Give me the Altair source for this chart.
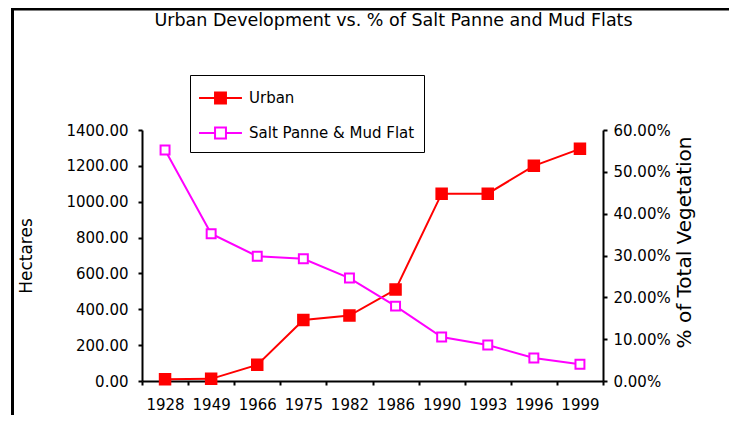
import altair as alt
import pandas as pd

years = ["1928", "1949", "1966", "1975", "1982", "1986", "1990", "1993", "1996", "1999"]
urban_ha = [10, 12, 90, 340, 365, 510, 1045, 1045, 1200, 1295]
salt_pct = [0.552, 0.352, 0.298, 0.292, 0.246, 0.179, 0.105, 0.086, 0.055, 0.040]
series_names = ["Urban", "Salt Panne & Mud Flat"]
series_colors = ["#ff0000", "#ff00ff"]
series_fills = ["#ff0000", "#ffffff"]
left_ticks = [0, 200, 400, 600, 800, 1000, 1200, 1400]
right_ticks = [0, 0.1, 0.2, 0.3, 0.4, 0.5, 0.6]

FONT = "DejaVu Sans"

urban_df = pd.DataFrame({"year": years, "hectares": urban_ha, "series": series_names[0]})
salt_df = pd.DataFrame({"year": years, "pct": salt_pct, "series": series_names[1]})
frame_df = pd.DataFrame({"k": [0]})

legend_path = "M-1.65,0L-0.42,0M0.42,0L1.65,0M-0.42,-0.42L0.42,-0.42L0.42,0.42L-0.42,0.42Z"


def make_legend():
    return alt.Legend(title=None, orient="none", legendX=48, legendY=-55,
                      symbolType=legend_path, symbolSize=676,
                      symbolStrokeWidth=2, symbolOffset=7.5,
                      labelOffset=14.5, rowPadding=11, padding=9, labelLimit=400,
                      strokeColor="black", fillColor="white",
                      labelFont=FONT, labelFontSize=15, labelColor="black")


x_enc = alt.X("year:O", sort=years,
              scale=alt.Scale(type="band", domain=years, paddingInner=0, paddingOuter=0),
              axis=alt.Axis(title=None, labelAngle=0, tickBand="extent", labelPadding=12))

color_enc = alt.Color("series:N",
                      scale=alt.Scale(domain=series_names, range=series_colors),
                      legend=make_legend())
fill_enc = alt.Fill("series:N",
                    scale=alt.Scale(domain=series_names, range=series_fills),
                    legend=make_legend())

y_left = alt.Y("hectares:Q",
               scale=alt.Scale(domain=[0, 1400], nice=False),
               axis=alt.Axis(title="Hectares", values=left_ticks, format=".2f", orient="left",
                             titleFontSize=17, titlePadding=30, labelPadding=10))
y_right = alt.Y("pct:Q",
                scale=alt.Scale(domain=[0, 0.6], nice=False),
                axis=alt.Axis(title="% of Total Vegetation", values=right_ticks, format=".2%",
                              orient="right", titleAngle=270, titleFontSize=20, titleY=112,
                              titlePadding=24, labelPadding=6))

urban_line = alt.Chart(urban_df).mark_line(strokeWidth=2).encode(x=x_enc, y=y_left, color=color_enc)
urban_pts = alt.Chart(urban_df).mark_point(shape="square", size=110, strokeWidth=2, opacity=1).encode(
    x=x_enc, y=y_left, color=color_enc, fill=fill_enc)
salt_line = alt.Chart(salt_df).mark_line(strokeWidth=2).encode(x=x_enc, y=y_right, color=color_enc)
salt_pts = alt.Chart(salt_df).mark_point(shape="square", size=80, strokeWidth=2, opacity=1).encode(
    x=x_enc, y=y_right, color=color_enc, fill=fill_enc)

urban = alt.layer(urban_line, urban_pts)
salt = alt.layer(salt_line, salt_pts)

frame_left = alt.Chart(frame_df).mark_rule(color="black", strokeWidth=3).encode(
    x=alt.value(-129.5), y=alt.value(-121.5), y2=alt.value(300))
frame_top = alt.Chart(frame_df).mark_rule(color="black", strokeWidth=3).encode(
    x=alt.value(-131), x2=alt.value(600), y=alt.value(-121))

chart = alt.layer(urban, salt, frame_left, frame_top).resolve_scale(y="independent").properties(
    width=461, height=251,
    background="white",
    autosize=alt.AutoSizeParams(type="none"),
    padding={"left": 134, "top": 122, "right": 126, "bottom": 34},
    title=alt.TitleParams("Urban Development vs. % of Salt Panne and Mud Flats",
                          font=FONT, fontSize=17.5, fontWeight="normal", color="black",
                          anchor="middle", frame="group", dx=21, offset=-22),
).configure_view(stroke=None).configure_axis(
    domainColor="black", domainWidth=2, tickColor="black", tickWidth=2, tickSize=4,
    labelFont=FONT, labelFontSize=15, labelColor="black", titleFont=FONT,
    titleFontWeight="normal", titleColor="black", grid=False
)

chart.save("out.html", embed_options={"renderer": "svg", "actions": False})
